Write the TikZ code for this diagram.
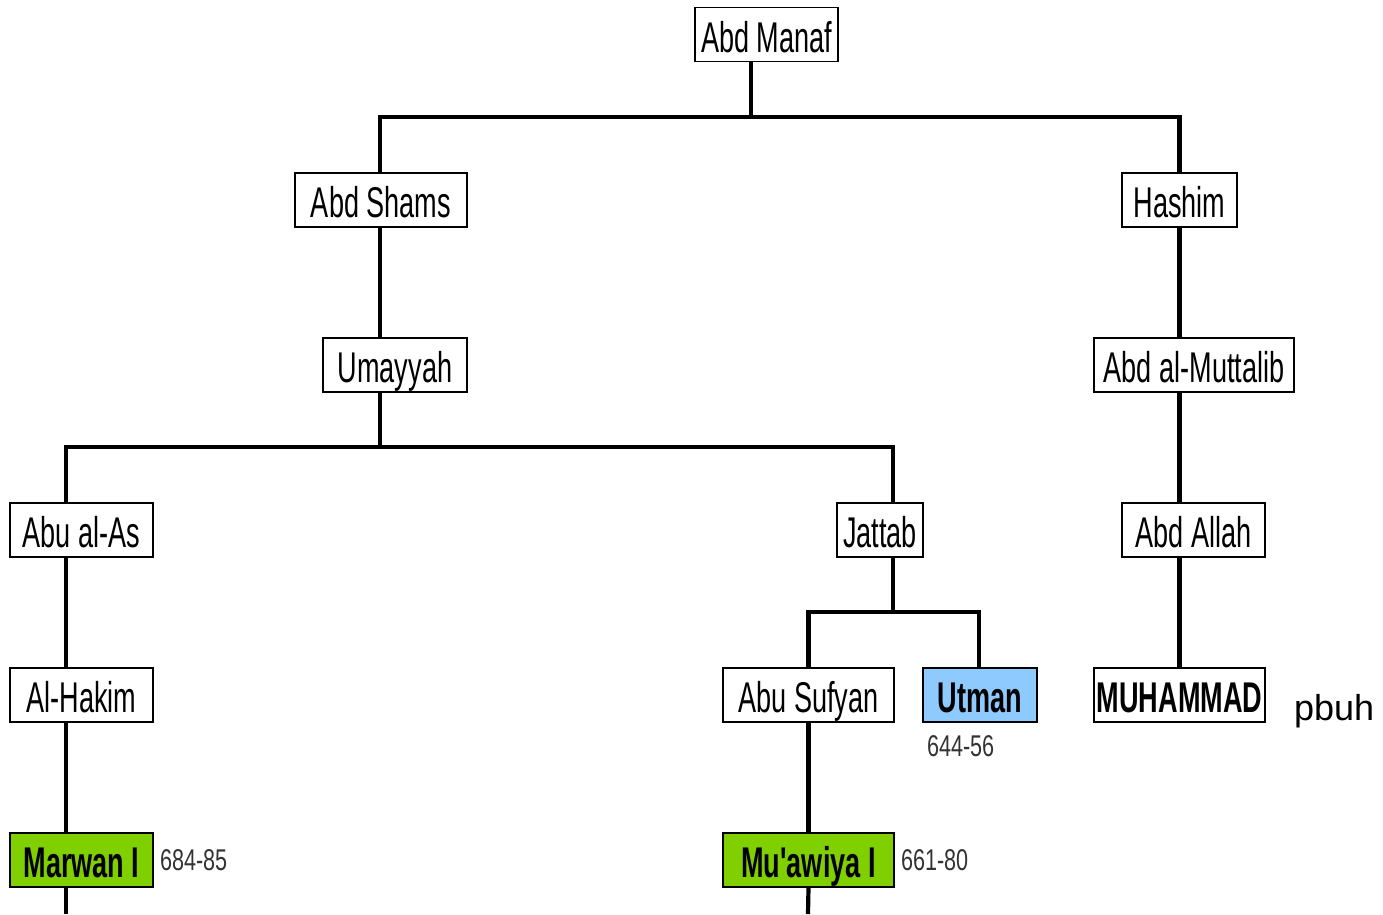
\documentclass[tikz,border=0pt]{standalone}
\usepackage{fontspec}
\setmainfont{Liberation Sans}
\newfontfamily\narrowfont[FakeStretch=0.63]{Liberation Sans}
\newfontfamily\datefont[FakeStretch=0.72]{Liberation Sans}
\usetikzlibrary{positioning}
\definecolor{caliph}{HTML}{80D000}
\definecolor{rashid}{HTML}{8FCAFF}
\definecolor{dateGray}{HTML}{333333}

\begin{document}
\begin{tikzpicture}[x=1pt,y=-1pt,
          every node/.style={inner sep=0pt,outer sep=0pt},
          person/.style={draw=black,line width=1.6pt,fill=white,
                         minimum height=54pt,text height=40pt,text depth=5pt,
                         font=\narrowfont\fontsize{43}{48}\selectfont},
          ruler/.style={person,fill=caliph,font=\narrowfont\bfseries\fontsize{43}{48}\selectfont},
          caliph3/.style={person,fill=rashid,font=\narrowfont\bfseries\fontsize{43}{48}\selectfont},
          prophet/.style={person,font=\narrowfont\bfseries\fontsize{43}{48}\selectfont},
          reign/.style={text=dateGray,font=\datefont\fontsize{30}{34}\selectfont},
          link/.style={draw=black,line width=4.2pt},
        ]
        \useasboundingbox (0,0) rectangle (1383,914);
        % first generations
        \node[person,minimum width=143pt] (abdmanaf) at (766.5,34.5) {Abd Manaf};
        \node[person,minimum width=172pt] (abdshams) at (381,200) {Abd Shams};
        \node[person,minimum width=115pt] (hashim) at (1179.5,200) {Hashim};
        \node[person,minimum width=144pt] (umayyah) at (395,365) {Umayyah};
        \node[person,minimum width=200pt] (muttalib) at (1194,365) {Abd al-Muttalib};
        % umayyad branches
        \node[person,minimum width=143pt] (abualas) at (81.5,530) {Abu al-As};
        \node[person,minimum width=86pt] (jattab) at (880,530) {Jattab};
        \node[person,minimum width=143pt] (abdallah) at (1193.5,530) {Abd Allah};
        \node[person,minimum width=143pt] (alhakim) at (81.5,695) {Al-Hakim};
        \node[person,minimum width=171pt] (abusufyan) at (808.5,695) {Abu Sufyan};
        \node[caliph3,minimum width=114pt] (utman) at (980,695) {Utman};
        \node[prophet,minimum width=171pt] (muhammad) at (1179.5,695) {MUHAMMAD};
        \node[font=\fontsize{36}{40}\selectfont,anchor=base west] (pbuh) at (1294,720) {pbuh};
        \node[ruler,minimum width=143pt] (marwan) at (81.5,860) {Marwan I};
        \node[ruler,minimum width=171pt] (muawiya) at (808.5,860) {Mu'awiya I};
        % reign years
        \node[reign,anchor=west] (marwanyr) at (160,860) {684-85};
        \node[reign,anchor=west] (muawiyayr) at (901,860) {661-80};
        \node[reign,anchor=west] (utmanyr) at (927,746) {644-56};
        % junctions
        \coordinate (j1) at (751,117);
        \coordinate (j2) at (380,447);
        \coordinate (j3) at (893,612);
        \coordinate (endl) at (66,914);
        \coordinate (endr) at (808,914);
        % connectors
        \draw[link] (abdmanaf.south -| j1) -- (j1);
        \draw[link] (abdshams.north -| 380,0) |- (j1) -| (hashim.north);
        \draw[link] (abdshams.south -| 380,0) -- (umayyah.north -| 380,0);
        \draw[link] (umayyah.south -| j2) -- (j2);
        \draw[link] (abualas.north -| 66,0) |- (j2) -| (jattab.north -| j3);
        \draw[link] (hashim.south) -- (muttalib.north -| hashim.south);
        \draw[link] (muttalib.south -| hashim.south) -- (abdallah.north -| hashim.south);
        \draw[link] (abdallah.south -| hashim.south) -- (muhammad.north -| hashim.south);
        \draw[link] (jattab.south -| j3) -- (j3);
        \draw[link] (abusufyan.north) |- (j3) -| (utman.north -| 979,0);
        \draw[link] (abualas.south -| 66,0) -- (alhakim.north -| 66,0);
        \draw[link] (alhakim.south -| 66,0) -- (marwan.north -| 66,0);
        \draw[link] (marwan.south -| endl) -- (endl);
        \draw[link] (abusufyan.south) -- (muawiya.north);
        \draw[link] (muawiya.south) -- (endr);
      \end{tikzpicture}
\end{document}
